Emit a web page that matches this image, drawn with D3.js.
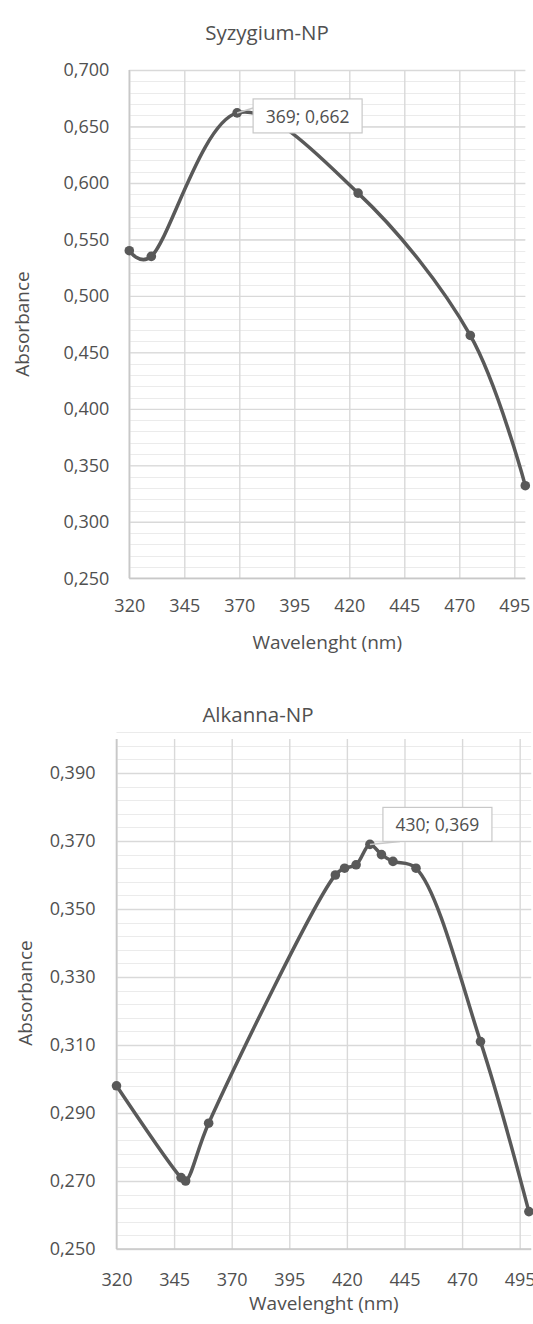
<!DOCTYPE html>
<html>
<head>
<meta charset="utf-8">
<script src="https://cdn.jsdelivr.net/npm/d3@7"></script>
<style>
  html, body { margin: 0; padding: 0; background: #fff; }
  text { font-family: "Open Sans", sans-serif; fill: #505050; }
</style>
</head>
<body>
<div id="main"></div>
<script>
// Syzygium-NP spectrum
const syzWavelength = [320, 330, 369, 424, 475, 500];
const syzAbsorbance = [0.540, 0.535, 0.662, 0.591, 0.465, 0.332];

// Alkanna-NP spectrum
const alkWavelength = [320, 348, 350, 360, 415, 419, 424, 430, 435, 440, 450, 478, 499];
const alkAbsorbance = [0.298, 0.271, 0.270, 0.287, 0.360, 0.362, 0.363, 0.369, 0.366, 0.364, 0.362, 0.311, 0.261];

const xTicks = [320, 345, 370, 395, 420, 445, 470, 495];
const syzYTicks = [0.25, 0.30, 0.35, 0.40, 0.45, 0.50, 0.55, 0.60, 0.65, 0.70];
const alkYTicks = [0.25, 0.27, 0.29, 0.31, 0.33, 0.35, 0.37, 0.39];

const comma = d3.formatLocale({ decimal: ',', thousands: '.', grouping: [3], currency: ['', ''] });
const fmt3 = comma.format('.3f');

const W = 533, H = 1324;
const svg = d3.select('#main').append('svg')
  .attr('width', W).attr('height', H)
  .attr('viewBox', [0, 0, W, H]);

function drawChart(o) {
  const x = d3.scaleLinear().domain([320, 500]).range([o.left, o.right]);
  const y = d3.scaleLinear().domain(o.yDomain).range([o.bottom, o.top]);
  const g = svg.append('g');

  // minor horizontal grid
  const [y0, y1] = o.yDomain;
  const nMinor = Math.round((y1 - y0) / o.minor);
  g.append('g').selectAll('line')
    .data(d3.range(1, nMinor + 1).map(i => y0 + i * o.minor))
    .join('line')
    .attr('x1', o.left).attr('x2', o.right)
    .attr('y1', d => Math.round(y(d)) + 0.5).attr('y2', d => Math.round(y(d)) + 0.5)
    .attr('stroke', '#ebebeb').attr('stroke-width', 1);

  // y axis with major gridlines
  const ay = g.append('g')
    .attr('transform', `translate(${o.left},0)`)
    .call(d3.axisLeft(y).tickValues(o.yTicks).tickFormat(fmt3)
      .tickSizeInner(-(o.right - o.left)).tickSizeOuter(0).tickPadding(o.yPad));
  ay.select('.domain').remove();
  ay.selectAll('.tick line').attr('stroke', '#d9d9d9').attr('stroke-width', 1.4);
  ay.selectAll('.tick text').attr('font-size', 18).attr('font-family', null).attr('fill', '#505050');

  // x axis with vertical gridlines
  const ax = g.append('g')
    .attr('transform', `translate(0,${o.bottom})`)
    .call(d3.axisBottom(x).tickValues(xTicks)
      .tickSizeInner(-(o.bottom - o.top)).tickSizeOuter(0).tickPadding(o.xPad));
  ax.select('.domain').remove();
  ax.selectAll('.tick line').attr('stroke', '#d9d9d9').attr('stroke-width', 1.4);
  ax.selectAll('.tick text').attr('font-size', 18).attr('font-family', null).attr('fill', '#505050');

  // axis lines
  g.append('line').attr('x1', o.left).attr('x2', o.left).attr('y1', o.top).attr('y2', o.bottom)
    .attr('stroke', '#c8c8c8').attr('stroke-width', 1.6);
  g.append('line').attr('x1', o.left).attr('x2', o.right).attr('y1', o.bottom).attr('y2', o.bottom)
    .attr('stroke', '#c8c8c8').attr('stroke-width', 1.6);

  // series
  const pts = o.wl.map((w, i) => [w, o.abs[i]]);
  g.append('path')
    .attr('d', d3.line().x(d => x(d[0])).y(d => y(d[1])).curve(d3.curveCatmullRom.alpha(o.alpha))(pts))
    .attr('fill', 'none').attr('stroke', '#595959').attr('stroke-width', 3.5)
    .attr('stroke-linejoin', 'round');
  g.append('g').selectAll('circle').data(pts).join('circle')
    .attr('cx', d => x(d[0])).attr('cy', d => y(d[1])).attr('r', 4.8)
    .attr('fill', '#595959');

  // data label callout
  const p = pts[o.labelIndex];
  const px = x(p[0]), py = y(p[1]);
  const bx = px + o.labelDx, by = py + o.labelDy, bw = 109, bh = 34;
  g.append('path')
    .attr('d', `M${px},${py}L${o.leadX(bx, bw)},${o.leadY(by, bh)}`)
    .attr('stroke', '#c8c8c8').attr('stroke-width', 1.5);
  g.append('rect').attr('x', bx).attr('y', by).attr('width', bw).attr('height', bh)
    .attr('fill', '#fff').attr('stroke', '#c8c8c8').attr('stroke-width', 1.2);
  g.append('text').attr('x', bx + bw / 2).attr('y', by + bh / 2)
    .attr('text-anchor', 'middle').attr('dominant-baseline', 'central')
    .attr('font-size', 17.5).text(`${p[0]}; ${fmt3(p[1])}`);

  // titles
  g.append('text').attr('x', o.titleX).attr('y', o.titleY)
    .attr('text-anchor', 'middle').attr('dominant-baseline', 'central')
    .attr('font-size', 20.5).text(o.title);
  g.append('text').attr('x', (o.left + o.right) / 2).attr('y', o.xTitleY)
    .attr('text-anchor', 'middle').attr('dominant-baseline', 'central')
    .attr('font-size', 19).text('Wavelenght (nm)');
  g.append('text')
    .attr('transform', `translate(${o.yTitleX},${o.yTitleY}) rotate(-90)`)
    .attr('text-anchor', 'middle').attr('dominant-baseline', 'central')
    .attr('font-size', 19).text('Absorbance');
}

drawChart({
  title: 'Syzygium-NP', titleX: 267, titleY: 32,
  wl: syzWavelength, abs: syzAbsorbance, alpha: 0.25,
  left: 129.3, right: 525.3, top: 70, bottom: 578.3,
  yDomain: [0.25, 0.70], yTicks: syzYTicks, minor: 0.01,
  yPad: 20, xPad: 21,
  xTitleY: 642, yTitleX: 22, yTitleY: 324,
  labelIndex: 2, labelDx: 16, labelDy: -14,
  leadX: (bx) => bx, leadY: (by) => by + 9
});

drawChart({
  title: 'Alkanna-NP', titleX: 258, titleY: 714,
  wl: alkWavelength, abs: alkAbsorbance, alpha: 0.5,
  left: 116.5, right: 531.2, top: 739, bottom: 1249,
  yDomain: [0.25, 0.40], yTicks: alkYTicks, minor: 0.004,
  yPad: 21, xPad: 24,
  xTitleY: 1303, yTitleX: 25, yTitleY: 993,
  labelIndex: 7, labelDx: 13, labelDy: -37,
  leadX: (bx) => bx + 17, leadY: (by, bh) => by + bh
});
</script>
</body>
</html>
